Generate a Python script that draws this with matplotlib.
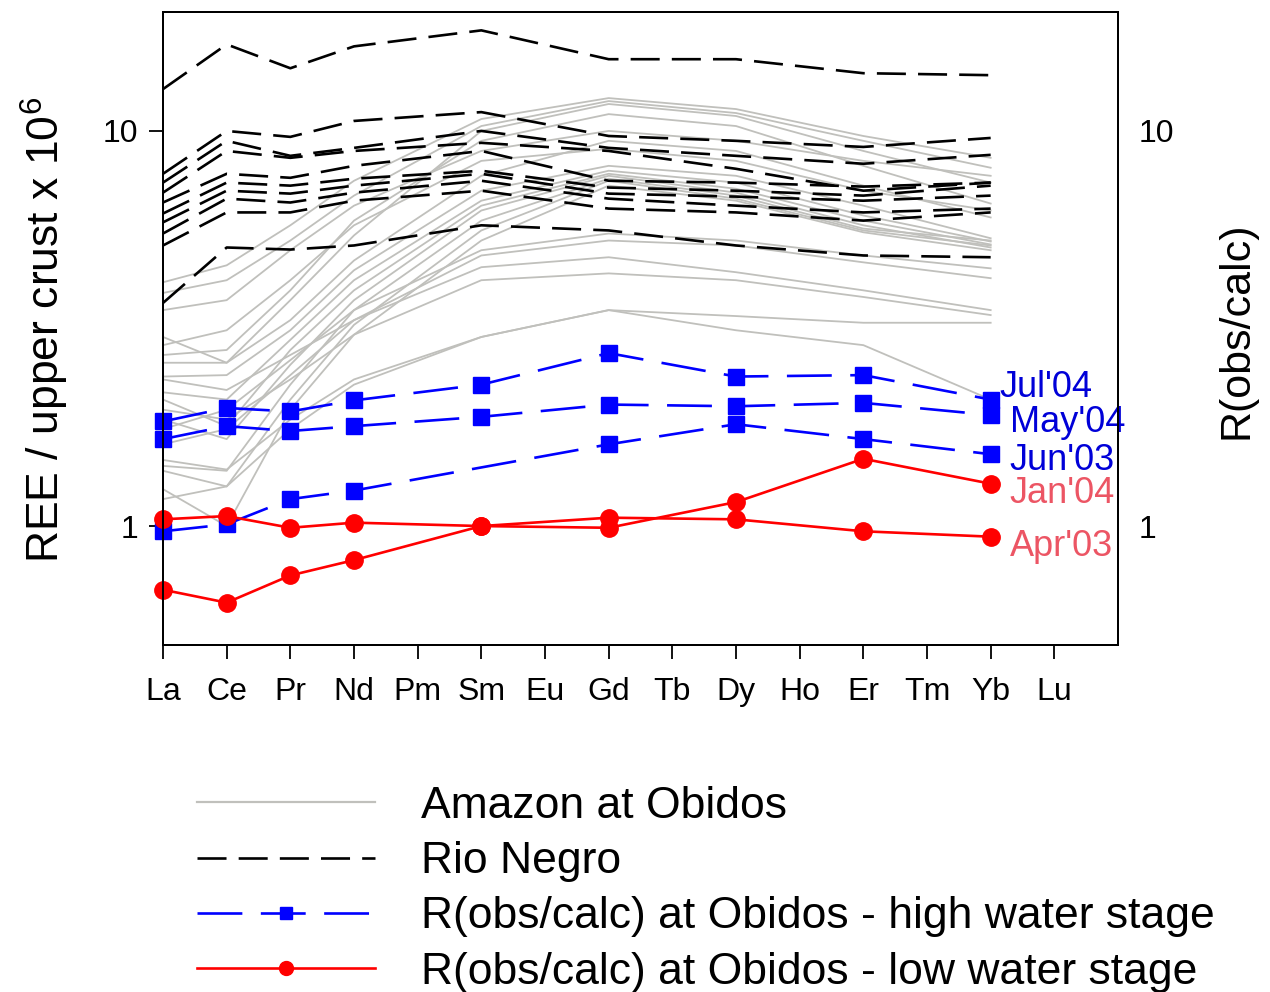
import numpy as np
import matplotlib
matplotlib.use('Agg')
import matplotlib.pyplot as plt
from matplotlib.lines import Line2D
from matplotlib.ticker import NullLocator, FixedLocator, FixedFormatter

# ---------------- data ----------------
ree = ['La', 'Ce', 'Pr', 'Nd', 'Pm', 'Sm', 'Eu', 'Gd', 'Tb', 'Dy', 'Ho', 'Er', 'Tm', 'Yb', 'Lu']
measured = ['La', 'Ce', 'Pr', 'Nd', 'Sm', 'Gd', 'Dy', 'Er', 'Yb']

# Amazon at Obidos (normalised to upper crust)
amazon = [
    [4.14, 4.57, 5.77, 7.48, 10.72, 12.11, 11.36, 9.71, 8.55],
    [3.89, 4.19, 5.28, 6.86, 10.29, 11.90, 11.10, 9.44, 8.07],
    [3.01, 2.59, 3.73, 5.44, 10.00, 11.70, 10.91, 8.90, 7.40],
    [2.71, 2.79, 3.95, 5.93, 9.44, 11.03, 10.29, 8.16, 6.55],
    [2.59, 2.59, 3.32, 4.70, 7.70, 9.44, 8.90, 7.27, 6.04],
    [2.39, 2.41, 3.13, 4.44, 7.06, 8.16, 7.70, 6.47, 5.35],
    [2.18, 2.09, 2.96, 4.19, 6.66, 7.93, 7.40, 6.11, 5.25],
    [2.09, 1.79, 2.79, 3.95, 6.47, 7.79, 7.14, 5.93, 5.16],
    [1.86, 1.66, 2.56, 3.73, 6.29, 7.70, 6.98, 5.77, 5.07],
    [1.42, 1.38, 2.28, 3.52, 5.93, 7.57, 6.86, 5.66, 5.28],
    [1.38, 1.26, 2.09, 3.23, 5.60, 7.48, 6.74, 5.60, 5.13],
    [1.24, 1.00, 1.97, 3.05, 5.28, 7.27, 6.66, 5.54, 4.99],
    [1.76, 1.97, 2.63, 3.52, 4.99, 5.50, 5.28, 4.84, 4.49],
    [1.61, 1.76, 2.41, 3.32, 4.84, 5.28, 5.13, 4.65, 4.24],
    [2.35, 2.21, 2.71, 3.32, 4.52, 4.79, 4.39, 3.95, 3.52],
    [1.97, 1.86, 2.35, 3.05, 4.19, 4.36, 4.19, 3.80, 3.42],
    [1.47, 1.39, 1.86, 2.35, 3.01, 3.52, 3.40, 3.27, 3.27],
    [1.17, 1.26, 1.76, 2.28, 3.01, 3.52, 3.13, 2.87, 2.09],
    [3.52, 3.73, 4.99, 6.47, 8.90, 10.00, 9.44, 8.40, 7.70],
    [2.87, 3.13, 4.19, 5.77, 8.40, 9.01, 8.40, 7.06, 6.29],
]

# Rio Negro
rio_negro = [
    [12.76, 16.56, 14.41, 16.37, 17.97, 15.19, 15.19, 14.00, 13.84],
    [7.79, 10.00, 9.66, 10.60, 11.16, 9.71, 9.44, 9.11, 9.60],
    [7.40, 9.44, 8.65, 9.06, 10.00, 9.06, 8.65, 8.26, 8.70],
    [6.98, 8.90, 8.55, 8.90, 9.33, 8.90, 8.02, 7.06, 7.40],
    [6.59, 7.79, 7.61, 8.16, 8.90, 7.48, 7.40, 7.23, 7.40],
    [6.18, 7.40, 7.27, 7.57, 7.93, 7.19, 7.06, 6.86, 7.27],
    [5.87, 7.06, 6.94, 7.27, 7.79, 6.94, 6.82, 6.66, 6.86],
    [5.50, 6.74, 6.59, 6.98, 7.48, 6.74, 6.47, 6.22, 6.36],
    [5.13, 6.22, 6.22, 6.66, 7.06, 6.36, 6.22, 5.93, 6.22],
    [3.67, 5.07, 5.01, 5.13, 5.77, 5.60, 5.13, 4.84, 4.79],
]

# R(obs/calc) at Obidos - high water stage
high_labels = ["Jul'04", "May'04", "Jun'03"]
jul04 = [1.84, 1.99, 1.95, 2.08, 2.28, 2.74, 2.39, 2.41, 2.09]
may04 = [1.66, 1.79, 1.74, 1.79, 1.89, 2.03, 2.01, 2.05, 1.91]
jun03 = [0.97, 1.01, 1.17, 1.23, np.nan, 1.61, 1.81, 1.66, 1.52]

# R(obs/calc) at Obidos - low water stage
low_labels = ["Jan'04", "Apr'03"]
jan04 = [0.69, 0.64, 0.75, 0.82, 1.00, 0.99, 1.15, 1.48, 1.28]
apr03 = [1.04, 1.06, 0.99, 1.02, 1.00, 1.05, 1.04, 0.97, 0.94]

legend_labels = ['Amazon at Obidos', 'Rio Negro',
                 'R(obs/calc) at Obidos - high water stage',
                 'R(obs/calc) at Obidos - low water stage']

# ---------------- style ----------------
plt.rcParams['font.family'] = ['Liberation Sans', 'DejaVu Sans']
plt.rcParams['mathtext.fontset'] = 'custom'
plt.rcParams['mathtext.rm'] = 'Liberation Sans'

GRAY = '#c0c0bc'
BLUE = '#0000ff'
RED = '#ff0000'
BLUE_TXT = '#0000d8'
RED_TXT = '#ec5564'
BLACK_DASH = (11, 4.6)
BLUE_DASH = (17, 7)

fig = plt.figure(figsize=(12.7, 9.92), dpi=100)
ax = fig.add_axes([163 / 1270, 1 - 645 / 992, (1118 - 163) / 1270, (645 - 12) / 992])

xm = np.array([ree.index(e) for e in measured])

for vals in amazon:
    ax.plot(xm, vals, color=GRAY, lw=1.3, zorder=1)

for vals in rio_negro:
    ax.plot(xm, vals, color='black', lw=1.9, dashes=BLACK_DASH, zorder=2)


def plot_series(vals, **kw):
    v = np.array(vals, dtype=float)
    ok = ~np.isnan(v)
    return ax.plot(xm[ok], v[ok], clip_on=False, **kw)[0]


high = [jul04, may04, jun03]
low = [jan04, apr03]
for vals in high:
    plot_series(vals, color=BLUE, lw=1.9, dashes=BLUE_DASH, marker='s', ms=12,
                mec=BLUE, mfc=BLUE, zorder=3)
for vals in low:
    plot_series(vals, color=RED, lw=1.9, marker='o', ms=12.5,
                mec=RED, mfc=RED, zorder=4)

# end-of-line labels (offsets in pixels from last point)
label_offsets = {"Jul'04": (9, 12), "May'04": (19, -7), "Jun'03": (19, -6),
                 "Jan'04": (19, -10), "Apr'03": (19, -10)}
for name, vals in zip(high_labels, high):
    ax.annotate(name, xy=(xm[-1], vals[-1]), xytext=label_offsets[name],
                textcoords='offset pixels', ha='left', va='center',
                fontsize=26, color=BLUE_TXT, annotation_clip=False, zorder=6)
for name, vals in zip(low_labels, low):
    ax.annotate(name, xy=(xm[-1], vals[-1]), xytext=label_offsets[name],
                textcoords='offset pixels', ha='left', va='center',
                fontsize=26, color=RED_TXT, annotation_clip=False, zorder=6)

ax.set_yscale('log')
ax.set_ylim(0.5, 20)
ax.set_xlim(0, 15)
ax.set_xticks(range(len(ree)))
ax.set_xticklabels(ree)
ax.yaxis.set_major_locator(FixedLocator([1, 10]))
ax.yaxis.set_major_formatter(FixedFormatter(['1', '10']))
ax.yaxis.set_minor_locator(NullLocator())
ax.tick_params(axis='both', direction='out', length=10, width=1.3, labelsize=23)
ax.tick_params(axis='x', pad=13)
ax.tick_params(axis='y', pad=8)
for s in ax.spines.values():
    s.set_linewidth(1.4)

ax2 = ax.twinx()
ax2.set_yscale('log')
ax2.set_ylim(0.5, 20)
ax2.yaxis.set_major_locator(FixedLocator([1, 10]))
ax2.yaxis.set_major_formatter(FixedFormatter(['1', '10']))
ax2.yaxis.set_minor_locator(NullLocator())
ax2.tick_params(axis='y', length=0, pad=15, labelsize=23)
for s in ax2.spines.values():
    s.set_linewidth(1.4)

fig.text(45 / 1270, 1 - 330 / 992, r'REE / upper crust x 10$^{\mathregular{6}}$',
         rotation=90, ha='center', va='center', fontsize=32)
fig.text(1236 / 1270, 1 - 330 / 992, 'R(obs/calc)',
         rotation=90, ha='center', va='center', fontsize=31)

handles = [
    Line2D([], [], color=GRAY, lw=1.6),
    Line2D([], [], color='black', lw=1.9, dashes=BLACK_DASH),
    Line2D([], [], color=BLUE, lw=1.9, dashes=BLUE_DASH, marker='s', ms=8),
    Line2D([], [], color=RED, lw=1.9, marker='o', ms=10),
]
fig.legend(handles, legend_labels, loc='upper left',
           bbox_to_anchor=(197 / 1270, 1 - 786 / 992), frameon=False,
           fontsize=32, handlelength=4.0, handletextpad=1.05,
           labelspacing=0.32, borderpad=0, borderaxespad=0)

fig.savefig('out.png', dpi=100)
